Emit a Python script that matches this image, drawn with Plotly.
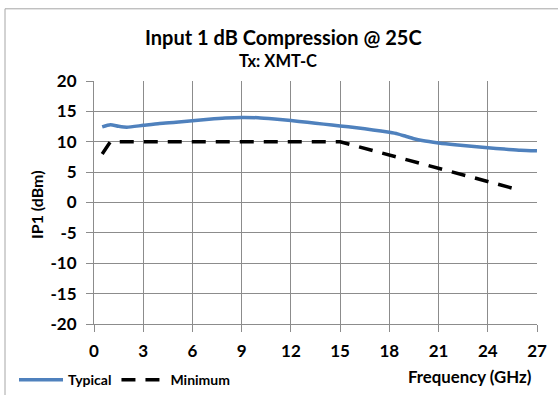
import plotly.graph_objects as go

typ_freq = [0.5, 1, 1.5, 2, 3, 4, 5, 6, 7, 8, 9, 10, 11, 12, 13, 14, 15, 16, 17, 18, 18.5, 19, 19.5, 20, 21, 22, 23, 24, 25, 26, 27]
typ_ip1 = [12.45, 12.8, 12.55, 12.4, 12.7, 13.0, 13.2, 13.45, 13.7, 13.9, 14.0, 13.95, 13.75, 13.5, 13.2, 12.9, 12.6, 12.3, 11.95, 11.55, 11.3, 10.9, 10.5, 10.2, 9.8, 9.5, 9.25, 9.0, 8.8, 8.6, 8.5]
min_freq = [0.5, 1, 15, 26]
min_ip1 = [8, 10, 10, 2]
x_ticks = [0, 3, 6, 9, 12, 15, 18, 21, 24, 27]
y_ticks = [20, 15, 10, 5, 0, -5, -10, -15, -20]

FONT = "Lato"
W, H = 558, 395
L, R, T, B = 94, 21, 80.5, 70.5
pw, ph = W - L - R, H - T - B

def px(x):
    return (x - L) / pw

def py(y):
    return (H - B - y) / ph

fig = go.Figure()
fig.add_trace(go.Scatter(x=typ_freq, y=typ_ip1, mode="lines", name="Typical",
                         line=dict(color="#4f81bd", width=3.5, shape="spline", smoothing=0.6)))
fig.add_trace(go.Scatter(x=min_freq, y=min_ip1, mode="lines", name="Minimum",
                         line=dict(color="#000000", width=3.5, dash="14px,10px")))

axis_common = dict(showgrid=True, gridcolor="#8c8c8c", gridwidth=1, showline=True,
                   linecolor="#8c8c8c", linewidth=1, ticks="outside", ticklen=7,
                   tickcolor="#8c8c8c", zeroline=False,
                   tickfont=dict(family=FONT, size=17, color="#000000", weight="bold"))

fig.update_xaxes(range=[0, 27], tickvals=x_ticks, ticktext=[str(v) for v in x_ticks],
                 ticklabelstandoff=5, **axis_common)
fig.update_yaxes(range=[-20, 20], tickvals=y_ticks, ticktext=[str(v) for v in y_ticks],
                 ticklabelstandoff=6, **axis_common)

annotations = [
    dict(text="<b>Input 1 dB Compression @ 25C</b>", x=px(283), y=py(36), xref="paper", yref="paper",
         showarrow=False, font=dict(family=FONT, size=20, color="#000000"), xanchor="center", yanchor="middle"),
    dict(text="<b>Tx: XMT-C</b>", x=px(278), y=py(60), xref="paper", yref="paper",
         showarrow=False, font=dict(family=FONT, size=16.5, color="#000000"), xanchor="center", yanchor="middle"),
    dict(text="<b>IP1 (dBm)</b>", x=px(37), y=py(205), xref="paper", yref="paper", textangle=-90,
         showarrow=False, font=dict(family=FONT, size=16, color="#000000"), xanchor="center", yanchor="middle"),
    dict(text="<b>Frequency (GHz)</b>", x=px(533), y=py(377), xref="paper", yref="paper",
         showarrow=False, font=dict(family=FONT, size=16.8, color="#000000"), xanchor="right", yanchor="middle"),
]

fig.update_layout(
    width=W, height=H,
    margin=dict(l=L, r=R, t=T, b=B, pad=0, autoexpand=False),
    paper_bgcolor="#ffffff", plot_bgcolor="#ffffff",
    showlegend=True,
    legend=dict(orientation="h", x=px(14), y=py(381), xanchor="left", yanchor="middle",
                font=dict(family=FONT, size=14, color="#000000", weight="bold"),
                bgcolor="rgba(0,0,0,0)", itemwidth=44, tracegroupgap=0),
    annotations=annotations,
    shapes=[dict(type="rect", xref="paper", yref="paper", x0=px(5), y0=py(8), x1=px(600), y1=py(440),
                 line=dict(color="#a6a6a6", width=1), layer="below")],
)

fig.write_html("out.html")
